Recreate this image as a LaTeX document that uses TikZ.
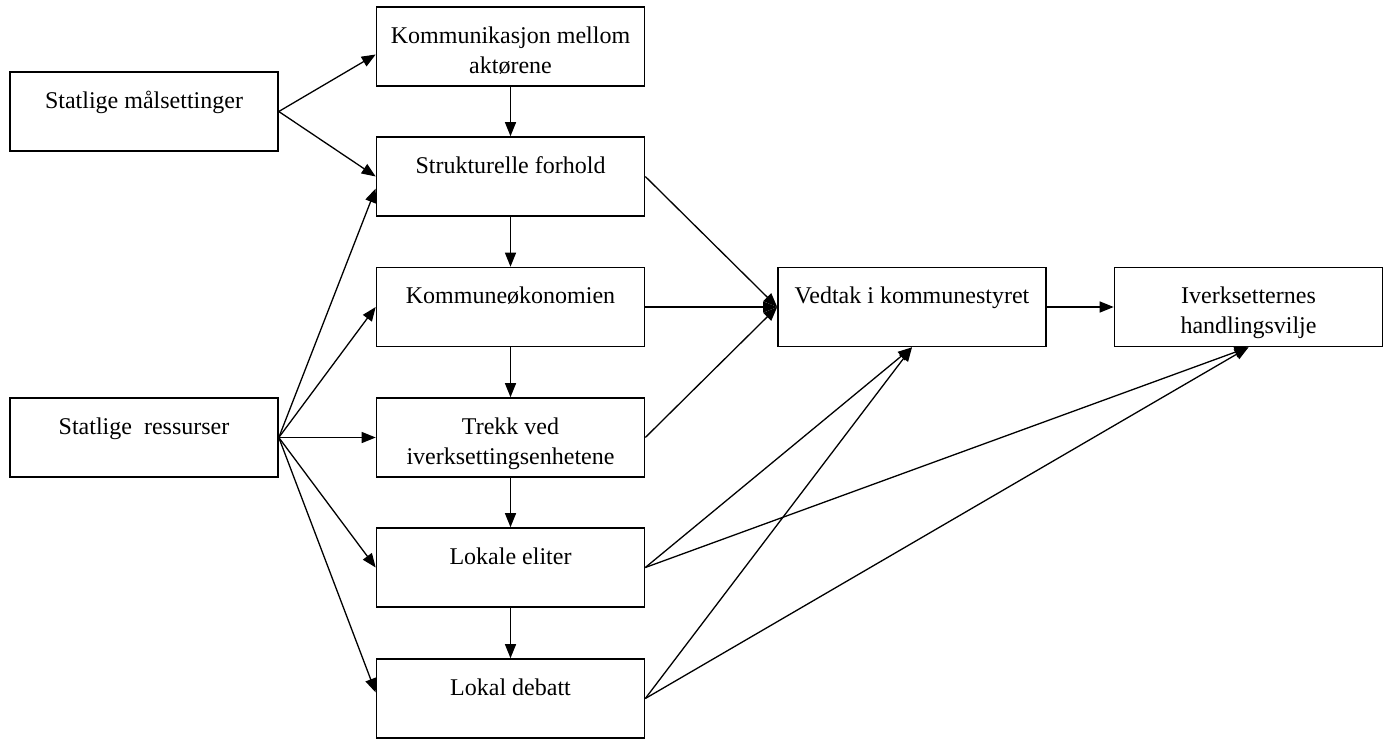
\documentclass[tikz,border=0pt]{standalone}
\usepackage{fontspec}
\setmainfont{Liberation Serif}
\usetikzlibrary{arrows.meta}

\begin{document}
\begin{tikzpicture}[x=0.5pt,y=-0.5pt,
  box/.style={draw,line width=0.8pt,minimum width=134pt,inner xsep=0pt,inner ysep=0pt,
    text height=18pt,text depth=21.5pt,align=center,font=\fontsize{12}{15}\selectfont},
  twoline/.style={box,text height=33pt,text depth=6.5pt},
  arr/.style={-{Triangle[length=7pt,width=5.5pt]},line width=0.65pt}]
\useasboundingbox (0,0) rectangle (1384,755);
% left column
\node[box] (maal) at (144,111.5) {Statlige målsettinger};
\node[box] (ress) at (144,437.5) {Statlige\ \ ressurser};
% middle column
\node[twoline] (kom) at (510.5,46.5) {Kommunikasjon mellom\\aktørene};
\node[box] (strukt) at (510.5,176.5) {Strukturelle forhold};
\node[box] (okon) at (510.5,307) {Kommuneøkonomien};
\node[twoline] (trekk) at (510.5,437.5) {Trekk ved\\iverksettingsenhetene};
\node[box] (eliter) at (510.5,567.5) {Lokale eliter};
\node[box] (debatt) at (510.5,698.5) {Lokal debatt};
% right
\node[box] (vedtak) at (912,307) {Vedtak i kommunestyret};
\node[twoline] (ivil) at (1248.5,307) {Iverksetternes\\handlingsvilje};
% from the state
\draw[arr] (maal.east) -- ([yshift=-4pt]kom.west);
\draw[arr] (maal.east) -- (strukt.west);
\draw[arr] (ress.east) -- ([yshift=-6pt]strukt.west);
\draw[arr] (ress.east) -- (okon.west);
\draw[arr] (ress.east) -- (trekk.west);
\draw[arr] (ress.east) -- (eliter.west);
\draw[arr] (ress.east) -- ([yshift=3pt]debatt.west);
% down the middle
\draw[arr] (kom) -- (strukt);
\draw[arr] (strukt) -- (okon);
\draw[arr] (okon) -- (trekk);
\draw[arr] (trekk) -- (eliter);
\draw[arr] (eliter) -- (debatt);
% into the council
\draw[arr] (strukt.east) -- (vedtak.west);
\draw[arr] (okon.east) -- (vedtak.west);
\draw[arr] (trekk.east) -- (vedtak.west);
\draw[arr] (eliter.east) -- (vedtak.south);
\draw[arr] (debatt.east) -- (vedtak.south);
% to the implementers
\draw[arr] (vedtak) -- (ivil);
\draw[arr] (eliter.east) -- (ivil.south);
\draw[arr] (debatt.east) -- (ivil.south);
\end{tikzpicture}
\end{document}
